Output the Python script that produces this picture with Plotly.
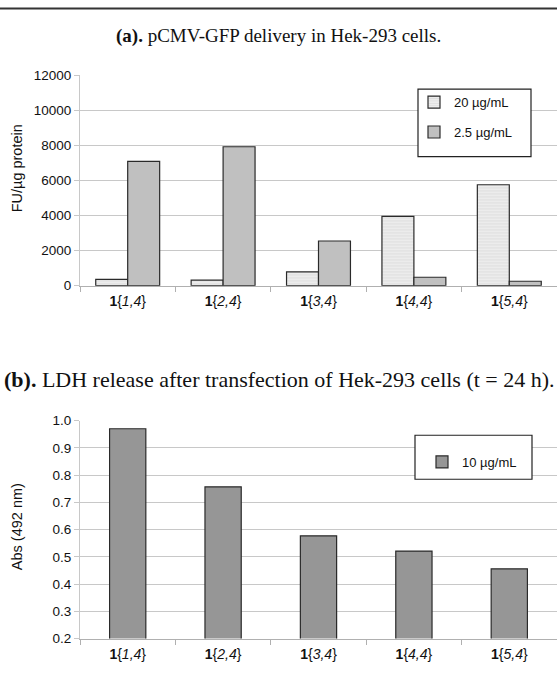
import plotly.graph_objects as go

W, H = 557, 673

categories = ["<b>1</b>{<i>1,4</i>}", "<b>1</b>{<i>2,4</i>}", "<b>1</b>{<i>3,4</i>}",
              "<b>1</b>{<i>4,4</i>}", "<b>1</b>{<i>5,4</i>}"]
gfp_20 = [360, 310, 790, 3950, 5760]
gfp_2_5 = [7090, 7930, 2550, 480, 250]
ldh_10 = [0.970, 0.757, 0.577, 0.521, 0.456]

title_a = "<b>(a).</b> pCMV-GFP delivery in Hek-293 cells."
title_b = "<b>(b).</b> LDH release after transfection of Hek-293 cells (t = 24 h)."
ylab_a = "FU/µg protein"
ylab_b = "Abs (492 nm)"
leg_a = ["20 µg/mL", "2.5 µg/mL"]
leg_b = ["10 µg/mL"]
yticks_a = [0, 2000, 4000, 6000, 8000, 10000, 12000]
yticks_b = [0.2, 0.3, 0.4, 0.5, 0.6, 0.7, 0.8, 0.9, 1.0]


def py(px):
    return 1 - px / H


def px_x(px):
    return px / W


SANS = "Liberation Sans, Arial, sans-serif"
SERIF = "Liberation Serif, Times New Roman, serif"
GRID = "#c8c8c8"
EDGE = "#2a2a2a"

fig = go.Figure()
fig.add_trace(go.Bar(
    x=categories, y=gfp_20, name=leg_a[0], xaxis="x", yaxis="y",
    marker=dict(color="#e6e6e6", line=dict(color=EDGE, width=1.2),
                pattern=dict(shape="-", fgcolor="#cfcfcf", bgcolor="#ececec",
                             size=3, solidity=0.35)),
    legend="legend", legendgroup="a1"))
fig.add_trace(go.Bar(
    x=categories, y=gfp_2_5, name=leg_a[1], xaxis="x", yaxis="y",
    marker=dict(color="#c0c0c0", line=dict(color=EDGE, width=1.2)),
    legend="legend", legendgroup="a2"))
fig.add_trace(go.Bar(
    x=categories, y=ldh_10, name=leg_b[0], xaxis="x2", yaxis="y2",
    width=0.38,
    marker=dict(color="#969696", line=dict(color=EDGE, width=1.2)),
    legend="legend2"))

axis_common = dict(
    showgrid=False, showline=True, linecolor="#b0b0b0", linewidth=1,
    ticks="outside", tickson="boundaries", ticklen=5, tickcolor="#b0b0b0",
    tickfont=dict(family=SANS, size=14, color="#111"),
    ticklabelstandoff=3,
    fixedrange=True,
)
yaxis_common = dict(
    showgrid=True, gridcolor=GRID, gridwidth=1, zeroline=False,
    showline=True, linecolor="#c8c8c8", linewidth=1,
    ticks="outside", ticklen=5, tickcolor="#c8c8c8",
    tickfont=dict(family=SANS, size=13.5, color="#111"),
    fixedrange=True,
)

x0 = px_x(80)
fig.update_layout(
    width=W, height=H,
    margin=dict(l=0, r=0, t=0, b=0),
    paper_bgcolor="white", plot_bgcolor="white",
    barmode="group", bargap=0.33, bargroupgap=0.0,
    xaxis=dict(domain=[x0, 1], anchor="y", **axis_common),
    yaxis=dict(domain=[py(285), py(70)], anchor="x", range=[0, 12000],
               tickvals=yticks_a, tickformat="d", **yaxis_common),
    xaxis2=dict(domain=[x0, 1], anchor="y2", **axis_common),
    yaxis2=dict(domain=[py(646), py(423)], anchor="x2", range=[0.2, 1.0],
                tickvals=yticks_b, tickformat=".1f", **yaxis_common),
    legend=dict(x=px_x(414), y=py(82), xanchor="left", yanchor="top",
                bgcolor="rgba(0,0,0,0)", borderwidth=0,
                font=dict(family=SANS, size=13, color="#111"),
                traceorder="grouped", tracegroupgap=10),
    legend2=dict(x=px_x(422), y=py(450), xanchor="left", yanchor="top",
                 bgcolor="rgba(0,0,0,0)", borderwidth=0,
                 font=dict(family=SANS, size=13, color="#111")),
    showlegend=True,
)

# legend frames
fig.add_shape(type="rect", xref="paper", yref="paper",
              x0=px_x(418), x1=px_x(531), y0=py(153), y1=py(84),
              fillcolor="white", line=dict(color="#222", width=1.2), layer="above")
fig.add_shape(type="rect", xref="paper", yref="paper",
              x0=px_x(415), x1=px_x(532), y0=py(483), y1=py(438),
              fillcolor="white", line=dict(color="#222", width=1.2), layer="above")

fig.add_annotation(text=title_a, x=0.5, y=py(30), xref="paper", yref="paper",
                   showarrow=False, xanchor="center", yanchor="middle",
                   font=dict(family=SERIF, size=19, color="#111"))
fig.add_annotation(text=title_b, x=px_x(279), y=py(381), xref="paper", yref="paper",
                   showarrow=False, xanchor="center", yanchor="middle",
                   font=dict(family=SERIF, size=22, color="#111"))
fig.add_annotation(text=ylab_a, x=px_x(17), y=py(165), xref="paper", yref="paper",
                   showarrow=False, textangle=-90, xanchor="center", yanchor="middle",
                   font=dict(family=SANS, size=14.5, color="#111"))
fig.add_annotation(text=ylab_b, x=px_x(17), y=py(532), xref="paper", yref="paper",
                   showarrow=False, textangle=-90, xanchor="center", yanchor="middle",
                   font=dict(family=SANS, size=14.5, color="#111"))

fig.add_shape(type="line", xref="paper", yref="paper", x0=0, x1=1,
              y0=py(1.5), y1=py(1.5), line=dict(color="#333", width=2))

fig.write_html("out.html", config={"displayModeBar": False},
               post_script="document.body.style.margin='0';"
                           "document.body.style.overflow='hidden';")
